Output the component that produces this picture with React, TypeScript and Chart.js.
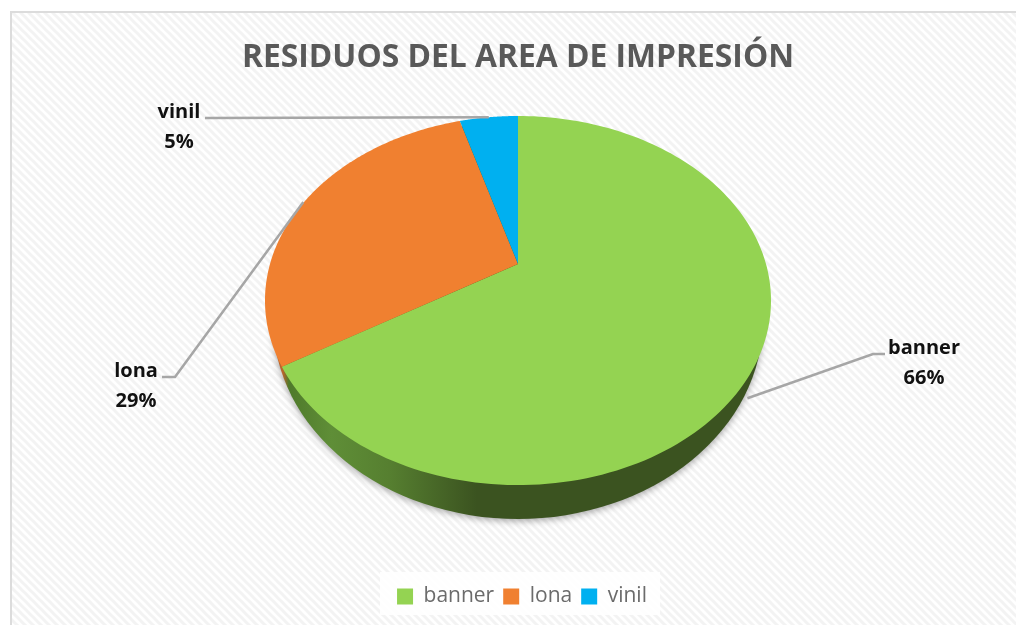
import React, { useEffect, useRef } from "react";
import { Chart, registerables } from "chart.js";

Chart.register(...registerables);

const categories = ["banner", "lona", "vinil"];
const shares = [66.3, 29.2, 4.5];
const percentLabels = ["66%", "29%", "5%"];
const sliceColors = ["#94D352", "#F08030", "#00B0F0"];
const chartTitle = "RESIDUOS DEL AREA DE IMPRESIÓN";

const FONT = '"Open Sans", "Noto Sans", sans-serif';
const APEX_Y = 264;
const PIE_RADIUS = 248;
const Y_SCALE = 0.715;
const TILT = -0.198;
const LEGEND_SHIFT = 4;
const LABEL_STYLE = [
  { x: 924, y: 348, elbowX: 873, elbowY: 354, startX: 885, nudgeX: -10, nudgeY: 38 },
  { x: 136, y: 371, elbowX: 175, elbowY: 377, startX: 162, nudgeX: 1, nudgeY: -2 },
  { x: 179, y: 112, elbowX: 205, elbowY: 118, startX: 205, nudgeX: 0, nudgeY: 0 },
];

function hatch(ctx: CanvasRenderingContext2D) {
  const c = document.createElement("canvas");
  c.width = 8;
  c.height = 8;
  const p = c.getContext("2d")!;
  p.fillStyle = "#ffffff";
  p.fillRect(0, 0, 8, 8);
  p.strokeStyle = "#f3f3f3";
  p.lineWidth = 3;
  for (const d of [-8, 0, 8]) {
    p.beginPath();
    p.moveTo(d - 2, -2);
    p.lineTo(d + 10, 10);
    p.stroke();
  }
  return ctx.createPattern(c, "repeat")!;
}

function project(el: any, angle: number) {
  const u = Math.cos(angle);
  const v = Math.sin(angle);
  const w = 1 + TILT * v;
  return {
    x: el.x + (el.outerRadius * u) / w,
    y: APEX_Y + (el.outerRadius * Y_SCALE * v) / w,
  };
}

const backdrop = {
  id: "backdrop",
  afterLayout(chart: any) {
    chart.legend.left += LEGEND_SHIFT;
    chart.legend.right += LEGEND_SHIFT;
  },
  beforeDraw(chart: any) {
    const { ctx, width, height } = chart;
    ctx.save();
    ctx.fillStyle = "#ffffff";
    ctx.fillRect(0, 0, width, height);
    ctx.fillStyle = hatch(ctx);
    ctx.fillRect(11, 13, width - 11, height - 13);
    ctx.fillStyle = "#dcdcdc";
    ctx.fillRect(10, 11, width - 10, 2);
    ctx.fillRect(10, 11, 2, height - 11);
    ctx.fillStyle = "rgba(255,255,255,0.85)";
    ctx.fillRect(380, 572, 280, 43);
    ctx.restore();
  },
};

const perspectivePie = {
  id: "perspectivePie",
  beforeDatasetDraw(chart: any) {
    const { ctx } = chart;
    const arcs = chart.getDatasetMeta(0).data;
    const cx = arcs[0].x;

    // side wall
    ctx.save();
    ctx.shadowColor = "rgba(0,0,0,0.35)";
    ctx.shadowBlur = 7;
    ctx.shadowOffsetY = 2;
    const side = ctx.createLinearGradient(cx - 235, 0, cx + 250, 0);
    side.addColorStop(0, "#b8652c");
    side.addColorStop(0.012, "#4f7a2b");
    side.addColorStop(0.1, "#5f8e37");
    side.addColorStop(0.22, "#567f30");
    side.addColorStop(0.4, "#3b5320");
    side.addColorStop(1, "#3b5320");
    ctx.fillStyle = side;
    ctx.beginPath();
    ctx.ellipse(cx, 320, 245, 199, 0, 0, Math.PI * 2);
    ctx.fill();
    ctx.restore();

    // top faces
    arcs.forEach((el: any, i: number) => {
      const steps = 160;
      ctx.beginPath();
      ctx.moveTo(el.x, APEX_Y);
      for (let s = 0; s <= steps; s++) {
        const p = project(el, el.startAngle + ((el.endAngle - el.startAngle) * s) / steps);
        ctx.lineTo(p.x, p.y);
      }
      ctx.closePath();
      ctx.fillStyle = sliceColors[i];
      ctx.fill();
    });

    // leader lines and data labels
    arcs.forEach((el: any, i: number) => {
      const st = LABEL_STYLE[i];
      const rim = project(el, (el.startAngle + el.endAngle) / 2);
      ctx.save();
      ctx.strokeStyle = "#a6a6a6";
      ctx.lineWidth = 2.5;
      ctx.beginPath();
      ctx.moveTo(st.startX, st.elbowY);
      ctx.lineTo(st.elbowX, st.elbowY);
      ctx.lineTo(rim.x + st.nudgeX, rim.y + st.nudgeY);
      ctx.stroke();
      ctx.fillStyle = "#111111";
      ctx.font = `bold 20px ${FONT}`;
      ctx.textAlign = "center";
      ctx.textBaseline = "middle";
      ctx.fillText(categories[i], st.x, st.y);
      ctx.fillText(percentLabels[i], st.x, st.y + 30);
      ctx.restore();
    });
    return false;
  },
};

export default function App() {
  const ref = useRef<HTMLCanvasElement>(null);
  useEffect(() => {
    const chart = new Chart(ref.current!, {
      type: "pie",
      data: {
        labels: categories,
        datasets: [{ data: shares, backgroundColor: sliceColors, borderWidth: 0, radius: PIE_RADIUS } as any],
      },
      options: {
        responsive: false,
        animation: false,
        layout: { padding: { left: 20, right: 0, top: 39, bottom: 8 } },
        plugins: {
          title: {
            display: true,
            text: chartTitle,
            color: "#595959",
            font: { family: FONT, size: 31.8, weight: "bold" },
            padding: 0,
          },
          legend: {
            position: "bottom",
            labels: {
              color: "#6b6b6b",
              font: { family: FONT, size: 21 },
              boxWidth: 16,
              boxHeight: 16,
              padding: 9,
            },
          },
          tooltip: { enabled: false },
        },
      },
      plugins: [backdrop, perspectivePie],
    } as any);
    return () => chart.destroy();
  }, []);
  return (
    <canvas
      ref={ref}
      width={1016}
      height={625}
      style={{ position: "fixed", left: 0, top: 0, width: 1016, height: 625, display: "block", filter: "blur(0.4px)" }}
    />
  );
}
